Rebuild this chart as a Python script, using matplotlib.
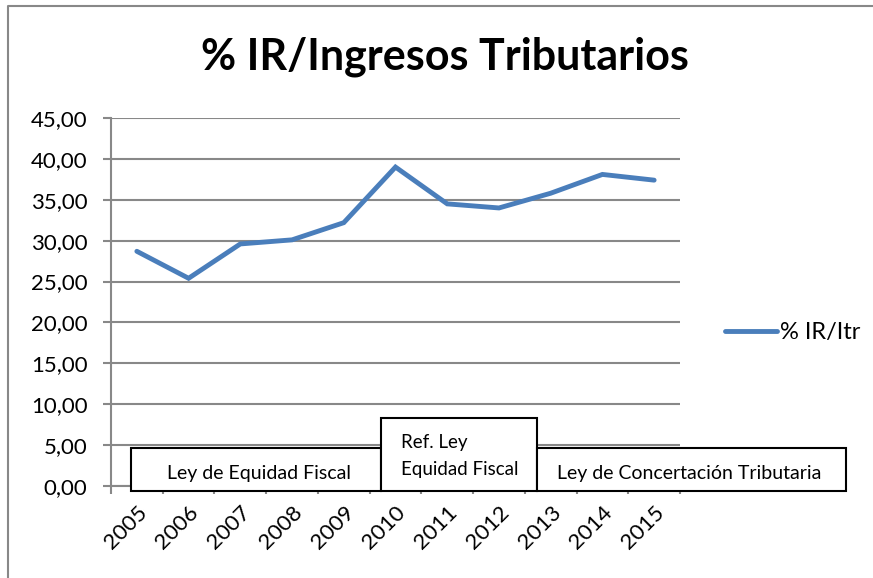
import matplotlib
matplotlib.use("Agg")
import matplotlib.pyplot as plt
from matplotlib.patches import Rectangle
from matplotlib.lines import Line2D
import numpy as np

years = ["2005", "2006", "2007", "2008", "2009", "2010", "2011", "2012", "2013", "2014", "2015"]
values = [28.7, 25.4, 29.6, 30.1, 32.2, 39.0, 34.5, 34.0, 35.8, 38.1, 37.4]
yticks = [0, 5, 10, 15, 20, 25, 30, 35, 40, 45]
title = "% IR/Ingresos Tributarios"
series_name = "% IR/Itr"
box_labels = ["Ley de Equidad Fiscal", "Ref. Ley\nEquidad Fiscal", "Ley de Concertación Tributaria"]

plt.rcParams['font.family'] = ['Lato', 'DejaVu Sans']

W, H = 873, 578
fig = plt.figure(figsize=(W / 100, H / 100), dpi=100)
ax = fig.add_axes([111 / W, 1 - 486 / H, (680 - 111) / W, (486 - 118) / H])

x = np.arange(len(years))
line, = ax.plot(x, values, color="#4a7ebb", lw=3.5, solid_capstyle="round", solid_joinstyle="miter", zorder=3)

ax.set_xlim(-0.5, len(years) - 0.5)
ax.set_ylim(0, 45)
ax.set_yticks(yticks)
ax.set_yticklabels([f"{v:.2f}".replace(".", ",") for v in yticks], fontsize=16)
ax.set_xticks(x)
ax.set_xticklabels(years, fontsize=16, rotation=45, ha="right", rotation_mode="anchor")
ax.set_xticks(np.arange(-0.5, len(years)), minor=True)
ax.tick_params(axis="x", which="major", length=0, pad=12)
ax.tick_params(axis="x", which="minor", length=6, color="#888888", width=1.5)
ax.tick_params(axis="y", length=6, color="#888888", width=1.5, pad=11)
ax.grid(axis="y", color="#888888", lw=1.5)
ax.set_axisbelow(True)
for s in ["top", "right"]:
    ax.spines[s].set_visible(False)
for s in ["left", "bottom"]:
    ax.spines[s].set_color("#888888")
    ax.spines[s].set_linewidth(1.5)

fig.text(445 / W, 1 - 57 / H, title, fontsize=31, fontweight="bold", ha="center", va="center")

# legend
fig.legend([line], [series_name], loc="center left", bbox_to_anchor=(716 / W, 1 - 333 / H),
           frameon=False, fontsize=17, handlelength=2.2, handletextpad=0.1, borderaxespad=0)

# annotation boxes
boxes = [(131, 448, 381, 491), (381, 418, 537, 491), (537, 448, 846, 491)]
for (x0, y0, x1, y1) in boxes:
    fig.patches.append(Rectangle((x0 / W, 1 - y1 / H), (x1 - x0) / W, (y1 - y0) / H,
                                 transform=fig.transFigure, facecolor="white",
                                 edgecolor="black", lw=1.5, zorder=5))
fig.text(259 / W, 1 - 474 / H, box_labels[0], fontsize=14, ha="center", va="center", zorder=6)
fig.text(401 / W, 1 - 456 / H, box_labels[1], fontsize=13.5, ha="left", va="center", zorder=6, linespacing=1.75)
fig.text(689 / W, 1 - 474 / H, box_labels[2], fontsize=14, ha="center", va="center", zorder=6)

# outer chart border (top and left edges visible)
fig.lines.append(Line2D([8 / W, 8 / W, 1.0], [0.0, 1 - 6 / H, 1 - 6 / H], transform=fig.transFigure,
                        color="#888888", lw=1.5))

fig.savefig("out.png", dpi=100)
